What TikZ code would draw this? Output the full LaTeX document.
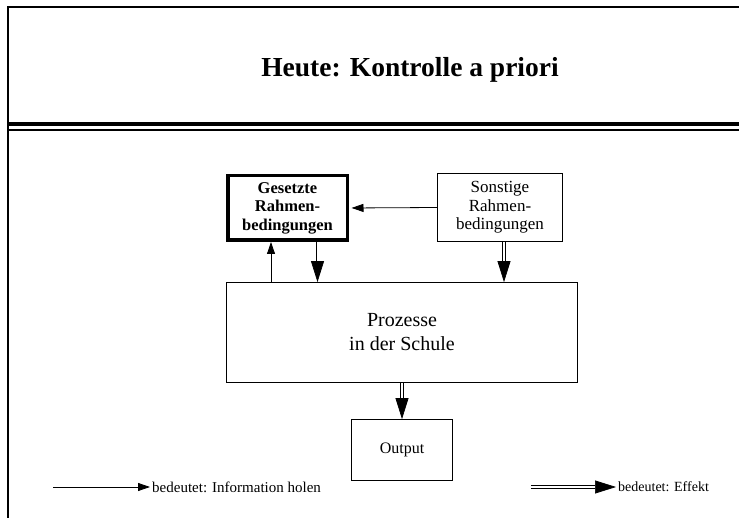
\documentclass[tikz,border=0pt]{standalone}
\usepackage{fontspec}
\setmainfont{Liberation Serif}
\usetikzlibrary{arrows.meta}
\begin{document}
\begin{tikzpicture}[x=1pt, y=-1pt,
  box/.style = {draw, line width=0.8pt, align=center, inner sep=0pt},
  info/.style = {line width=0.8pt, -{Triangle[length=12pt, width=8pt]}},
  effekt/.style = {double, line width=0.7pt, double distance=2pt, -{Triangle[length=21pt, width=13pt]}}]
\useasboundingbox (0,0) rectangle (739,518);
% frame
\draw[line width=2.5pt] (8,518) -- (8,7) -- (739,7);
\draw[line width=4pt] (8,124) -- (739,124);
\draw[line width=1.2pt] (8,130) -- (739,130);
\node[font=\fontsize{27.5}{32}\selectfont\bfseries] (titel) at (410,70) {Heute: Kontrolle a priori};
% boxes
\node[box, line width=3.5pt, minimum width=119.5pt, minimum height=64.5pt,
  font=\fontsize{16.5}{18.5}\selectfont\bfseries] (gesetzt) at (287.5,208) {Gesetzte\\Rahmen-\\bedingungen};
\node[box, minimum width=125.2pt, minimum height=68.2pt,
  font=\fontsize{17}{18.5}\selectfont] (sonstig) at (500,207.5) {Sonstige\\Rahmen-\\bedingungen};
\node[box, minimum width=351pt, minimum height=100pt,
  font=\fontsize{20}{24}\selectfont] (prozess) at (402,332.5) {Prozesse\\in der Schule};
\node[box, minimum width=101pt, minimum height=61pt,
  font=\fontsize{16}{18}\selectfont] (output) at (402,450) {Output};
% arrows
\draw[info, shorten >=2.5pt] (sonstig.west) -- (gesetzt.east);
\coordinate (hol) at ([xshift=-16.5pt]gesetzt.south);
\draw[info] (hol |- prozess.north) -- (hol);
\coordinate (eff1) at ([xshift=30pt]gesetzt.south);
\draw[effekt] (eff1) -- (eff1 |- prozess.north);
\coordinate (eff2) at ([xshift=4pt]sonstig.south);
\draw[effekt] (eff2) -- (eff2 |- prozess.north);
\draw[effekt] (prozess.south) -- (output.north);
% legend
\coordinate (infoA) at (53,487);
\node[anchor=west, inner sep=2pt, font=\fontsize{15}{18}\selectfont] (infotxt) at (150,487) {bedeutet: Information holen};
\draw[info] (infoA) -- (infotxt.west);
\coordinate (effA) at (531,487);
\node[anchor=west, inner sep=2pt, font=\fontsize{14}{17}\selectfont] (efftxt) at (616,487) {bedeutet: Effekt};
\draw[effekt] (effA) -- (efftxt.west);
\end{tikzpicture}
\end{document}
